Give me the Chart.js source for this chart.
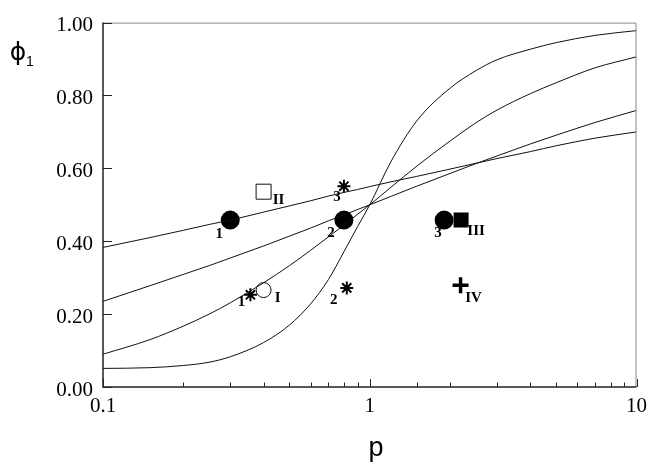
<!DOCTYPE html>
<html>
<head>
<meta charset="utf-8">
<script src="https://cdn.jsdelivr.net/npm/chart.js@4.4.0/dist/chart.umd.min.js"></script>
<style>
  body { margin: 0; background: #fff; }
  #wrap { width: 654px; height: 464px; }
</style>
</head>
<body>
<div id="wrap"><canvas id="phiChart"></canvas></div>
<script>
// p values where the curves were read
const pGrid = [0.1, 0.15, 0.2, 0.25, 0.3, 0.4, 0.5, 0.6, 0.7, 0.8, 0.9, 1, 1.2, 1.5, 2, 2.5, 3, 4, 5, 7, 10];
const curveA = [0.383, 0.410, 0.430, 0.446, 0.458, 0.480, 0.497, 0.511, 0.524, 0.534, 0.542, 0.550, 0.563, 0.578, 0.598, 0.614, 0.627, 0.646, 0.662, 0.683, 0.700];
const curveB = [0.235, 0.278, 0.309, 0.333, 0.354, 0.387, 0.414, 0.436, 0.456, 0.472, 0.487, 0.500, 0.523, 0.551, 0.586, 0.613, 0.634, 0.667, 0.691, 0.726, 0.759];
const curveC = [0.090, 0.130, 0.167, 0.200, 0.231, 0.286, 0.333, 0.375, 0.412, 0.444, 0.474, 0.500, 0.548, 0.606, 0.675, 0.725, 0.760, 0.805, 0.835, 0.876, 0.906];
const curveD = [0.051, 0.053, 0.059, 0.068, 0.083, 0.122, 0.170, 0.228, 0.295, 0.371, 0.440, 0.500, 0.618, 0.730, 0.820, 0.868, 0.898, 0.927, 0.945, 0.965, 0.978];

// experimental points
const filledCircleP = [0.3, 0.8, 1.9];
const filledCirclePhi = [0.458, 0.458, 0.458];
const filledCircleLabels = ['1', '2', '3'];
const starP = [0.357, 0.82, 0.80];
const starPhi = [0.253, 0.272, 0.551];
const starLabels = ['1', '2', '3'];
const openCircleP = [0.40];
const openCirclePhi = [0.266];
const openSquareP = [0.40];
const openSquarePhi = [0.536];
const filledSquareP = [2.2];
const filledSquarePhi = [0.458];
const plusP = [2.19];
const plusPhi = [0.279];
const romanLabels = ['I', 'II', 'III', 'IV'];

const yTicks = [0, 0.2, 0.4, 0.6, 0.8, 1.0];

const pts = (xs, ys) => xs.map((x, i) => ({ x: x, y: ys[i] }));

function curve(ys) {
    return {
        data: pts(pGrid, ys),
        showLine: true,
        borderColor: '#111',
        borderWidth: 1,
        pointRadius: 0,
        cubicInterpolationMode: 'monotone',
        fill: false
    };
}

// text tags next to markers: [dataset index, point index, text, dx, dy]
const tagStyle = [
    [4, 0, filledCircleLabels[0], -11, 14],
    [4, 1, filledCircleLabels[1], -13, 13],
    [4, 2, filledCircleLabels[2], -6, 13],
    [5, 0, starLabels[0], -9, 7],
    [5, 1, starLabels[1], -13, 12],
    [5, 2, starLabels[2], -7, 11],
    [6, 0, romanLabels[0], 14, 8],
    [7, 0, romanLabels[1], 15, 8],
    [8, 0, romanLabels[2], 15, 11],
    [9, 0, romanLabels[3], 13, 13]
];

const framePlugin = {
    id: 'frame',
    afterDraw(chart) {
        const ctx = chart.ctx;
        const a = chart.chartArea;
        const xs = chart.scales.x, ys = chart.scales.y;
        ctx.save();
        // box
        ctx.strokeStyle = '#888';
        ctx.lineWidth = 1;
        ctx.beginPath();
        ctx.moveTo(a.left, a.top + 0.5);
        ctx.lineTo(a.right - 0.5, a.top + 0.5);
        ctx.lineTo(a.right - 0.5, a.bottom);
        ctx.stroke();
        ctx.strokeStyle = '#222';
        ctx.lineWidth = 1.5;
        ctx.beginPath();
        ctx.moveTo(a.left, a.top);
        ctx.lineTo(a.left, a.bottom);
        ctx.lineTo(a.right, a.bottom);
        ctx.stroke();
        // inward ticks
        ctx.lineWidth = 1;
        ctx.beginPath();
        xs.ticks.forEach(t => {
            const l = Math.log10(t.value);
            const major = Math.abs(l - Math.round(l)) < 1e-6;
            const px = Math.round(xs.getPixelForValue(t.value)) + 0.5;
            ctx.moveTo(px, a.bottom);
            ctx.lineTo(px, a.bottom - (major ? 8 : 4.5));
        });
        ys.ticks.forEach(t => {
            const py = Math.round(ys.getPixelForValue(t.value)) + 0.5;
            ctx.moveTo(a.left, py);
            ctx.lineTo(a.left + 9, py);
        });
        ctx.stroke();
        // marker tags
        ctx.fillStyle = '#000';
        ctx.font = 'bold 15px "Liberation Serif", serif';
        ctx.textAlign = 'center';
        ctx.textBaseline = 'middle';
        tagStyle.forEach(([d, i, txt, dx, dy]) => {
            const el = chart.getDatasetMeta(d).data[i];
            ctx.fillText(txt, el.x + dx, el.y + dy);
        });
        // axis titles
        ctx.font = '25px "DejaVu Sans", sans-serif';
        ctx.fillText('\u03D5', 18, 53);
        ctx.font = '14px "Liberation Sans", sans-serif';
        ctx.fillText('1', 30, 62);
        ctx.font = '27px "Liberation Sans", sans-serif';
        ctx.fillText('p', 376, 449);
        ctx.restore();
    }
};

new Chart(document.getElementById('phiChart'), {
    type: 'scatter',
    data: {
        datasets: [
            curve(curveA),
            curve(curveB),
            curve(curveC),
            curve(curveD),
            {
                data: pts(filledCircleP, filledCirclePhi),
                pointStyle: 'circle', pointRadius: 9.5,
                backgroundColor: '#000', borderColor: '#000', borderWidth: 0
            },
            {
                data: pts(starP, starPhi),
                pointStyle: 'star', pointRadius: 6.5,
                borderColor: '#000', borderWidth: 2
            },
            {
                data: pts(openCircleP, openCirclePhi),
                pointStyle: 'circle', pointRadius: 7.5,
                backgroundColor: '#fff', borderColor: '#111', borderWidth: 1
            },
            {
                data: pts(openSquareP, openSquarePhi),
                pointStyle: 'rect', pointRadius: 10.6,
                backgroundColor: '#fff', borderColor: '#111', borderWidth: 1
            },
            {
                data: pts(filledSquareP, filledSquarePhi),
                pointStyle: 'rect', pointRadius: 10.6,
                backgroundColor: '#000', borderColor: '#000', borderWidth: 0
            },
            {
                data: pts(plusP, plusPhi),
                pointStyle: 'cross', pointRadius: 8,
                borderColor: '#000', borderWidth: 3.5
            }
        ]
    },
    options: {
        responsive: true,
        maintainAspectRatio: false,
        animation: false,
        layout: { padding: { top: 16, right: 10, left: 0, bottom: 0 } },
        plugins: {
            legend: { display: false },
            tooltip: { enabled: false }
        },
        scales: {
            x: {
                type: 'logarithmic',
                min: 0.1,
                max: 10,
                grid: { display: false, drawTicks: false },
                border: { display: false },
                afterFit: s => { s.height = 77; },
                ticks: {
                    autoSkip: false,
                    maxRotation: 0,
                    padding: 7,
                    color: '#000',
                    font: { family: '"Liberation Serif", serif', size: 21 },
                    callback: v => {
                        const l = Math.log10(v);
                        if (Math.abs(l - Math.round(l)) > 1e-6) return '';
                        return ['0.1', '1', '10'][Math.round(l) + 1];
                    }
                }
            },
            y: {
                min: 0,
                max: 1,
                grid: { display: false, drawTicks: false },
                border: { display: false },
                afterFit: s => { s.width = 103; },
                afterBuildTicks: s => { s.ticks = yTicks.map(v => ({ value: v })); },
                ticks: {
                    padding: 10,
                    labelOffset: 3,
                    color: '#000',
                    font: { family: '"Liberation Serif", serif', size: 21 },
                    callback: v => v.toFixed(2)
                }
            }
        }
    },
    plugins: [framePlugin]
});
</script>
</body>
</html>
